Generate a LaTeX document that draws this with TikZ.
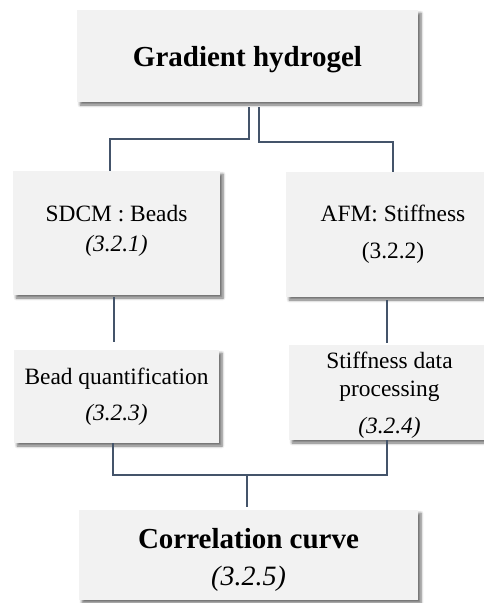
\documentclass[tikz,border=0pt]{standalone}
\usepackage{fontspec}
\setmainfont{Liberation Serif}
\usepackage{xcolor}
\usepackage{tikz}
\usetikzlibrary{arrows.meta,positioning,calc,shadows.blur}
\definecolor{boxgray}{HTML}{F2F2F2}
\definecolor{linkblue}{HTML}{44546A}

\begin{document}
\begin{tikzpicture}[x=1pt,y=-1pt]
  \tikzstyle{stage}=[fill=boxgray,inner sep=0pt,align=center,
    blur shadow={shadow xshift=3pt,shadow yshift=-3pt,shadow blur radius=2.5pt,shadow blur steps=6,shadow opacity=55}]
  \tikzstyle{link}=[draw=linkblue,line width=1.8pt]
  \useasboundingbox (0,0) rectangle (483,603);
  \node[stage,minimum width=341pt,minimum height=92pt,font=\bfseries\fontsize{29}{34}\selectfont] (gel) at (247.5,56) {\rule{0pt}{27pt}Gradient hydrogel};
  \node[stage,minimum width=207pt,minimum height=124pt,font=\fontsize{23.4}{30}\selectfont] (sdcm) at (116.5,233) {SDCM : Beads\\\textit{(3.2.1)}\rule[-9pt]{0pt}{9pt}};
  \node[stage,minimum width=214pt,minimum height=125pt,font=\fontsize{23.4}{30}\selectfont] (afm) at (393,234.5) {AFM: Stiffness\\[7pt](3.2.2)};
  \node[stage,minimum width=205pt,minimum height=93pt,font=\fontsize{23.4}{30}\selectfont] (bead) at (116.5,396.5) {Bead quantification\\[6pt]\textit{(3.2.3)}};
  \node[stage,minimum width=201pt,minimum height=95pt,font=\fontsize{23.4}{28}\selectfont] (stiff) at (389.5,392.5) {\rule{0pt}{22pt}Stiffness data\\processing\\[9pt]\textit{(3.2.4)}};
  \node[stage,minimum width=339pt,minimum height=90pt,font=\fontsize{29}{34}\selectfont] (corr) at (248.5,555) {\rule{0pt}{30pt}\textbf{Correlation curve}\\[3pt]\textit{\fontsize{28}{34}\selectfont(3.2.5)}};
  \draw[link] ([xshift=1.5pt,yshift=-5pt]gel.south) |- ([xshift=-6.5pt,yshift=32pt]sdcm.north) -- ([xshift=-6.5pt]sdcm.north);
  \draw[link] ([xshift=11.5pt,yshift=-5pt]gel.south) |- ([yshift=30pt]afm.north) -- (afm.north);
  \draw[link] ([xshift=-2.5pt,yshift=-2pt]sdcm.south) -- ([xshift=-2.5pt,yshift=8pt]bead.north);
  \draw[link] ([xshift=-6pt,yshift=-3pt]afm.south) -- ([xshift=-2.5pt,yshift=2pt]stiff.north);
  \draw[link] ([xshift=-3.5pt]bead.south) |- ([yshift=35pt]corr.north) -| ([xshift=-2.5pt]stiff.south);
  \draw[link] ([xshift=-1.5pt,yshift=35pt]corr.north) -- ([xshift=-1.5pt,yshift=3pt]corr.north);
\end{tikzpicture}
\end{document}
